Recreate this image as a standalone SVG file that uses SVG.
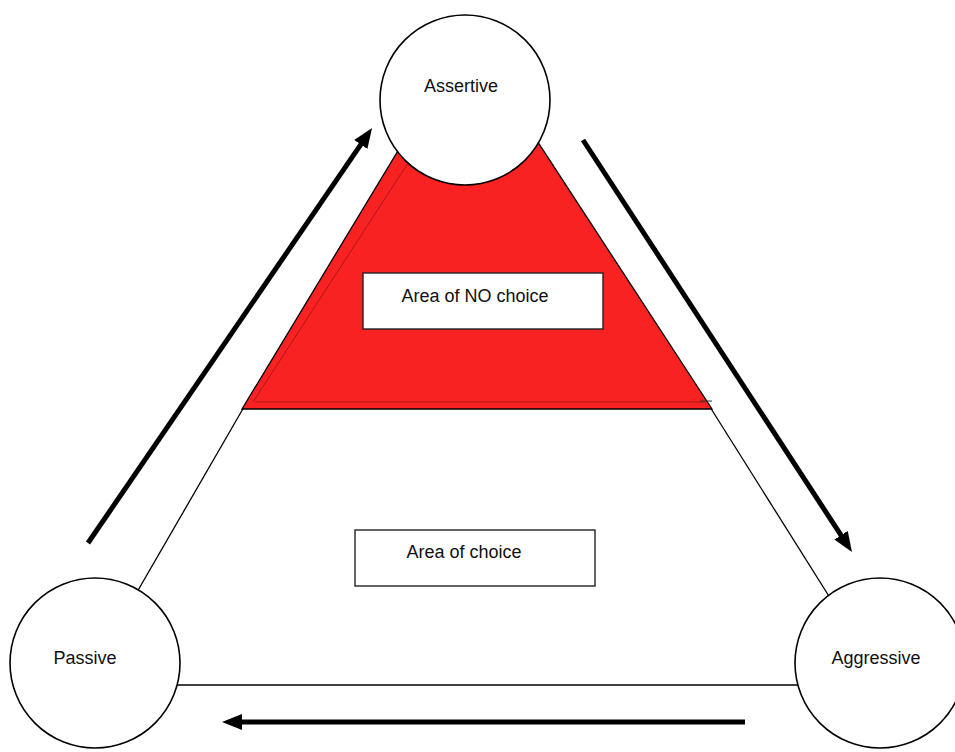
<svg xmlns="http://www.w3.org/2000/svg" width="955" height="752" viewBox="0 0 955 752">
<defs>
<marker id="ah" viewBox="0 0 20 16" refX="10" refY="8" markerUnits="userSpaceOnUse" markerWidth="20" markerHeight="16" orient="auto">
<path d="M0,0 L20,8 L0,16 z" fill="#000"/>
</marker>
<style>
.thin{stroke:#000;stroke-width:1.3;fill:none}
.arrow{stroke:#000;stroke-width:5;fill:none;marker-end:url(#ah)}
.node{fill:#fff;stroke:#000;stroke-width:1.6}
.box{fill:#fff;stroke:#222;stroke-width:1.4}
.lbl{font-family:"Liberation Sans",Arial,sans-serif;font-size:18px;fill:#111;text-anchor:middle}
</style>
</defs>
<rect width="955" height="752" fill="#fff"/>
<g id="connectors">
<line class="thin" x1="96" y1="663" x2="244" y2="407"/>
<line class="thin" x1="871" y1="663" x2="710" y2="407"/>
<line class="thin" x1="95" y1="685" x2="880" y2="685"/>
<line class="arrow" x1="88" y1="543" x2="366.4" y2="136.3"/>
<line class="arrow" x1="583" y1="140" x2="846.5" y2="543.6"/>
<line class="arrow" x1="745" y1="722" x2="232" y2="722"/>
</g>
<g id="no-choice-area">
<polygon points="242,409 468,35 712,409" fill="#f82222" stroke="#000" stroke-width="1.3"/>
<line x1="253" y1="402" x2="410" y2="160" stroke="#b01515" stroke-width="1"/>
<line x1="255" y1="402" x2="706" y2="402" stroke="#b01515" stroke-width="1"/>
<line x1="700" y1="401" x2="712" y2="401" stroke="#333" stroke-width="1"/>
</g>
<g id="box-no-choice">
<rect class="box" x="363" y="273" width="240" height="56"/>
<text class="lbl" x="475" y="302">Area of NO choice</text>
</g>
<g id="box-choice">
<rect class="box" x="355" y="530" width="240" height="56"/>
<text class="lbl" x="464" y="558">Area of choice</text>
</g>
<g id="assertive">
<circle class="node" cx="465" cy="100" r="85"/>
<text class="lbl" x="461" y="92">Assertive</text>
</g>
<g id="passive">
<circle class="node" cx="95" cy="663" r="85"/>
<text class="lbl" x="85" y="664">Passive</text>
</g>
<g id="aggressive">
<circle class="node" cx="880" cy="663" r="85"/>
<text class="lbl" x="876" y="664">Aggressive</text>
</g>
</svg>
